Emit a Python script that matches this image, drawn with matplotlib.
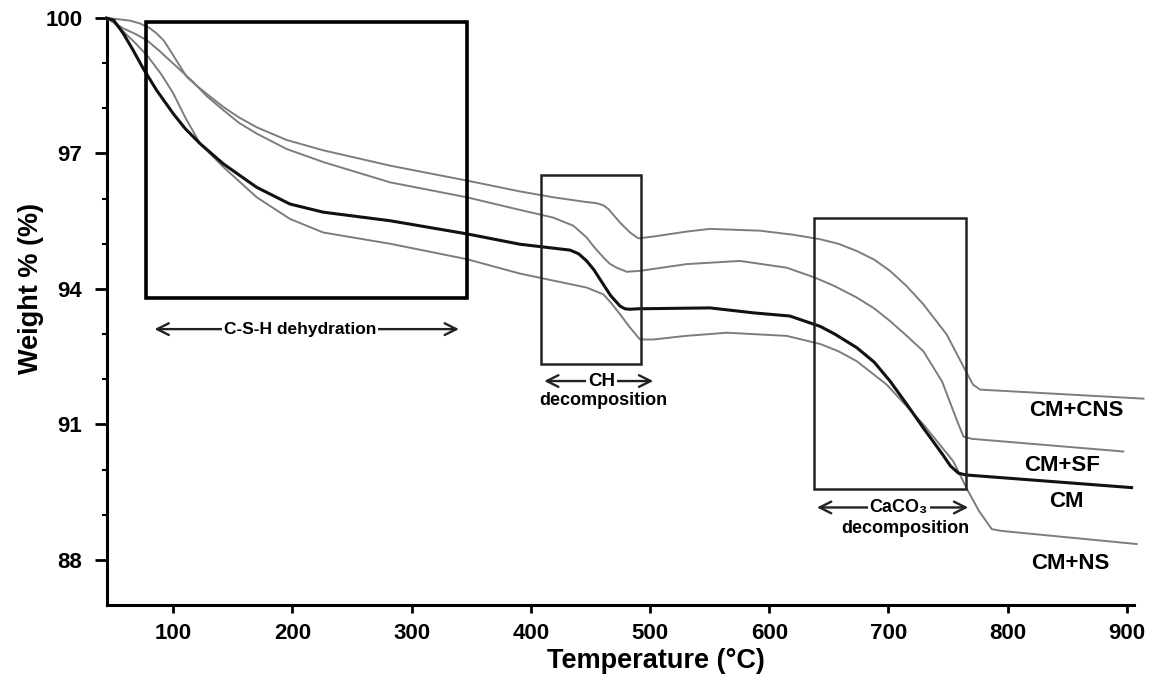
import matplotlib
matplotlib.use("Agg")
import matplotlib.pyplot as plt
from matplotlib.patches import Rectangle

plt.rcParams['font.family'] = ['Liberation Sans', 'DejaVu Sans']

# TGA curves: temperature (°C) and weight (%)
t_cm = [44, 50, 58, 66, 74.8, 86, 100, 110, 122.4, 142, 170, 197.9, 225.8, 282, 346.2,
        390.8, 432.8, 440, 446.8, 453, 460.8, 467, 474.8, 479, 483.2, 490, 550.3, 586.7,
        617.3, 642.8, 655, 673.4, 688, 701.3, 715, 729.3, 745, 752, 758.7, 765, 904]
w_cm = [100, 99.95, 99.66, 99.3, 98.88, 98.4, 97.88, 97.55, 97.22, 96.77, 96.25, 95.88,
        95.7, 95.51, 95.22, 94.99, 94.86, 94.78, 94.62, 94.42, 94.1, 93.85, 93.62, 93.56,
        93.55, 93.56, 93.58, 93.47, 93.4, 93.17, 93.0, 92.7, 92.38, 91.96, 91.46, 90.92,
        90.35, 90.08, 89.92, 89.88, 89.6]

t_cns = [44, 55, 64, 72, 80, 86, 92, 97.2, 104, 111.2, 119.6, 130, 142, 155, 170, 195,
         225.8, 282, 346.2, 390.8, 418.8, 445, 455, 461, 465, 474.8, 483.2, 490.2, 502.7,
         530.7, 550.3, 592.2, 620.2, 642.8, 658, 673.4, 688, 701.3, 715, 729.3, 748.9,
         764.9, 771, 776.9, 914]
w_cns = [100, 99.97, 99.94, 99.88, 99.78, 99.66, 99.5, 99.29, 99.0, 98.7, 98.5, 98.28,
         98.03, 97.8, 97.58, 97.3, 97.07, 96.73, 96.4, 96.16, 96.03, 95.93, 95.9, 95.85,
         95.77, 95.47, 95.25, 95.12, 95.16, 95.27, 95.33, 95.29, 95.2, 95.1, 95.0, 94.84,
         94.65, 94.4, 94.07, 93.66, 92.99, 92.18, 91.88, 91.77, 91.57]

t_sf = [44, 58, 68, 77.7, 88, 100, 116.8, 128, 142, 155, 170, 195, 225.8, 282, 346.2,
        390.8, 418.8, 435.6, 446.8, 453, 460.8, 466, 472, 480.4, 491.6, 530.7, 575.5,
        614.7, 638.4, 655, 673.4, 688, 701.3, 715, 729.3, 745, 757.3, 762.9, 770, 897]
w_sf = [100, 99.77, 99.65, 99.51, 99.28, 98.99, 98.58, 98.27, 97.96, 97.68, 97.44, 97.1,
        96.81, 96.36, 96.03, 95.75, 95.58, 95.4, 95.14, 94.93, 94.7, 94.56, 94.47, 94.38,
        94.4, 94.55, 94.62, 94.47, 94.25, 94.06, 93.81, 93.57, 93.29, 92.97, 92.62, 91.95,
        91.1, 90.73, 90.68, 90.4]

t_ns = [44, 50, 58, 68, 79, 90, 100, 110, 122.4, 142, 170, 197.9, 225.8, 282, 346.2,
        390.8, 446.8, 460.8, 467, 474.8, 483, 491.6, 502.7, 530, 564.4, 614.7, 642.8,
        658, 673.4, 698.6, 729.3, 754.5, 765.7, 776, 786.7, 795, 908.3]
w_ns = [100, 99.9, 99.7, 99.45, 99.14, 98.75, 98.33, 97.8, 97.22, 96.7, 96.03, 95.55,
        95.25, 95.0, 94.66, 94.34, 94.03, 93.88, 93.7, 93.44, 93.15, 92.88, 92.88, 92.96,
        93.03, 92.96, 92.78, 92.62, 92.4, 91.88, 91.0, 90.18, 89.58, 89.08, 88.68, 88.64,
        88.35]

series_names = ['CM+CNS', 'CM+SF', 'CM', 'CM+NS']
y_ticks = [88, 91, 94, 97, 100]
x_ticks = [100, 200, 300, 400, 500, 600, 700, 800, 900]

fig = plt.figure(figsize=(11.51, 6.8), dpi=100)
ax = fig.add_axes([0.0932, 0.1103, 0.892, 0.8632])

gray = '#7d7d7d'
for t, w in [(t_cns, w_cns), (t_sf, w_sf), (t_ns, w_ns)]:
    ax.plot(t, w, color=gray, lw=1.4, clip_on=False, zorder=3,
            solid_joinstyle='round')
ax.plot(t_cm, w_cm, color='#111111', lw=2.2, clip_on=False, zorder=4,
        solid_joinstyle='round')

ax.set_xlim(44.6, 906)
ax.set_ylim(87, 100)
ax.set_xticks(x_ticks)
ax.set_yticks(y_ticks)
ax.set_yticks([y for y in range(88, 100) if y not in y_ticks], minor=True)

for s in ['top', 'right']:
    ax.spines[s].set_visible(False)
for s in ['left', 'bottom']:
    ax.spines[s].set_linewidth(2.2)

ax.tick_params(axis='both', which='major', width=2, labelsize=16)
ax.tick_params(axis='y', which='major', length=9, pad=9)
ax.tick_params(axis='x', which='major', length=6, pad=7)
ax.tick_params(axis='y', which='minor', length=3.5, width=1.5)
for lab in ax.get_xticklabels() + ax.get_yticklabels():
    lab.set_fontweight('bold')

ax.set_xlabel('Temperature (°C)', fontsize=19.5, fontweight='bold')
ax.set_ylabel('Weight % (%)', fontsize=19.5, fontweight='bold')
ax.xaxis.set_label_coords(0.534, -0.074)
ax.yaxis.set_label_coords(-0.062, 0.54)

# highlighted regions
ax.add_patch(Rectangle((77, 93.8), 346.4 - 77, 99.91 - 93.8, fill=False,
                       lw=2.6, ec='black', zorder=5))
ax.add_patch(Rectangle((408.8, 92.33), 492.7 - 408.8, 96.53 - 92.33, fill=False,
                       lw=1.8, ec='#222222', zorder=5))
ax.add_patch(Rectangle((637.9, 89.57), 764.9 - 637.9, 95.57 - 89.57, fill=False,
                       lw=1.8, ec='#222222', zorder=5))

arrow_kw = dict(arrowstyle='<->', color='#222222', lw=1.7, mutation_scale=21)
txt_kw = dict(ha='center', va='center', fontweight='bold', zorder=7,
              bbox=dict(fc='white', ec='none', pad=1.5))

ax.annotate('', xy=(81.9, 93.11), xytext=(342, 93.11), arrowprops=arrow_kw, zorder=6)
ax.text(206.3, 93.11, 'C-S-H dehydration', fontsize=12.5, **txt_kw)

ax.annotate('', xy=(408.8, 91.96), xytext=(505, 91.96), arrowprops=arrow_kw, zorder=6)
ax.text(459.5, 91.96, 'CH', fontsize=13.5, **txt_kw)
ax.text(460.5, 91.53, 'decomposition', fontsize=13, ha='center', va='center',
        fontweight='bold')

ax.annotate('', xy=(637.7, 89.16), xytext=(769.3, 89.16), arrowprops=arrow_kw, zorder=6)
ax.text(708.8, 89.16, 'CaCO₃', fontsize=13, **txt_kw)
ax.text(713.8, 88.70, 'decomposition', fontsize=13, ha='center', va='center',
        fontweight='bold')

# curve labels
label_pos = [(858, 91.30), (845.7, 90.10), (848.9, 89.30), (852.4, 87.92)]
for name, (x, y) in zip(series_names, label_pos):
    ax.text(x, y, name, fontsize=16, fontweight='bold', ha='center', va='center')

fig.savefig('out.png', dpi=100)
